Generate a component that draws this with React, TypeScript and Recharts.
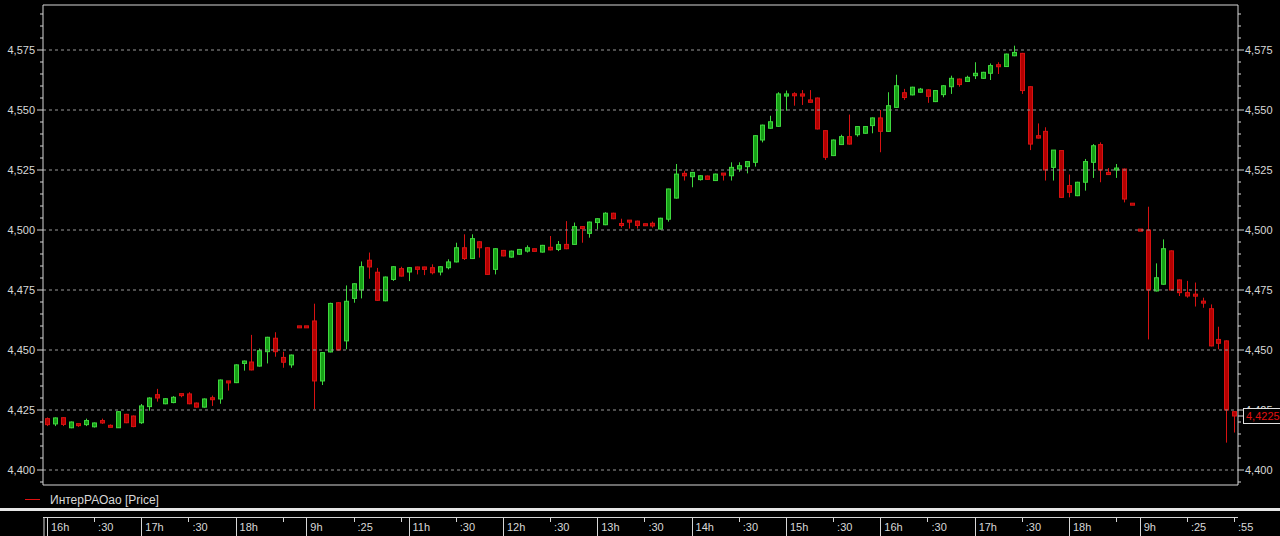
import { ComposedChart, Bar, XAxis, YAxis, ReferenceLine } from 'recharts';

// 5-minute candles
const opens = [
  4.4214, 4.4192, 4.4218, 4.4176, 4.419, 4.4189, 4.418, 4.4206, 4.4183, 4.4176,
  4.4232, 4.4225, 4.4197, 4.4264, 4.4314, 4.4276, 4.4281, 4.4315, 4.4317, 4.4279,
  4.4262, 4.4298, 4.4296, 4.4368, 4.4364, 4.4444, 4.445, 4.4433, 4.4493, 4.4549,
  4.4469, 4.4438, 4.4597, 4.4597, 4.4621, 4.4371, 4.4492, 4.4697, 4.4538, 4.4715,
  4.475, 4.4874, 4.4824, 4.4705, 4.4794, 4.4839, 4.4825, 4.4846, 4.4846, 4.4843,
  4.4825, 4.4843, 4.4867, 4.4926, 4.4881, 4.4951, 4.4926, 4.4836, 4.4915, 4.4887,
  4.4899, 4.4912, 4.4922, 4.4908, 4.4928, 4.4919, 4.494, 4.494, 4.5014, 4.4986,
  4.5031, 4.5022, 4.507, 4.5024, 4.5038, 4.5037, 4.5023, 4.5028, 4.5004, 4.5045,
  4.5133, 4.5236, 4.5222, 4.521, 4.5225, 4.5206, 4.5234, 4.5226, 4.5254, 4.5264,
  4.5282, 4.5375, 4.5424, 4.5432, 4.5558, 4.5567, 4.5567, 4.5542, 4.555, 4.5414,
  4.531, 4.5356, 4.5389, 4.5397, 4.5403, 4.5435, 4.5467, 4.5411, 4.5511, 4.5572,
  4.5563, 4.5574, 4.5584, 4.5535, 4.5564, 4.5597, 4.5629, 4.5619, 4.5643, 4.5632,
  4.5653, 4.5688, 4.5681, 4.5726, 4.5736, 4.5597, 4.5393, 4.5411, 4.5261, 4.5331,
  4.5185, 4.5143, 4.5199, 4.5282, 4.5356, 4.524, 4.525, 4.5254, 4.5108, 4.5,
  4.5, 4.4746, 4.4774, 4.4913, 4.4792, 4.4739, 4.4732, 4.47, 4.4672, 4.4544,
  4.4538, 4.4243,
];
const highs = [
  4.4219, 4.4219, 4.422, 4.4202, 4.4192, 4.4214, 4.4198, 4.4214, 4.419, 4.4245,
  4.4234, 4.4227, 4.4275, 4.4303, 4.4338, 4.4299, 4.4308, 4.4316, 4.4324, 4.4281,
  4.4298, 4.431, 4.4377, 4.4369, 4.444, 4.4456, 4.4563, 4.4506, 4.4555, 4.4574,
  4.4493, 4.4481, 4.4599, 4.4599, 4.4693, 4.4491, 4.4697, 4.4699, 4.4769, 4.4778,
  4.4869, 4.4906, 4.4842, 4.4806, 4.4849, 4.4847, 4.4845, 4.4847, 4.4847, 4.4857,
  4.4849, 4.4878, 4.4947, 4.4982, 4.4982, 4.4953, 4.4928, 4.4924, 4.4917, 4.4914,
  4.4921, 4.4936, 4.4923, 4.4938, 4.4975, 4.4954, 4.5037, 4.5031, 4.5016, 4.5035,
  4.5049, 4.5074, 4.5072, 4.5047, 4.504, 4.5039, 4.5026, 4.5035, 4.5051, 4.5172,
  4.5275, 4.5247, 4.5242, 4.5228, 4.5227, 4.5235, 4.5235, 4.5282, 4.5282, 4.5287,
  4.5395, 4.5439, 4.5476, 4.5574, 4.5581, 4.5574, 4.5583, 4.5583, 4.5552, 4.5416,
  4.5377, 4.5397, 4.5481, 4.5433, 4.5433, 4.5469, 4.55, 4.5574, 4.5647, 4.5588,
  4.5597, 4.5592, 4.5586, 4.5583, 4.5603, 4.5643, 4.5631, 4.5643, 4.5699, 4.5659,
  4.5694, 4.5699, 4.5735, 4.5768, 4.5738, 4.5599, 4.5444, 4.5428, 4.5333, 4.5333,
  4.5231, 4.5201, 4.5296, 4.5358, 4.5365, 4.5258, 4.5275, 4.5256, 4.5109, 4.5001,
  4.5097, 4.4861, 4.4961, 4.4915, 4.4794, 4.4788, 4.4781, 4.4718, 4.469, 4.4597,
  4.454, 4.4245,
];
const lows = [
  4.4183, 4.4183, 4.4183, 4.4174, 4.418, 4.4183, 4.4177, 4.4192, 4.418, 4.4175,
  4.4195, 4.4178, 4.4192, 4.4247, 4.4285, 4.4274, 4.4278, 4.4303, 4.4274, 4.426,
  4.426, 4.4267, 4.4276, 4.4331, 4.4362, 4.4414, 4.4415, 4.4431, 4.4444, 4.4472,
  4.4426, 4.4426, 4.4595, 4.4595, 4.4253, 4.4354, 4.449, 4.4498, 4.4503, 4.4697,
  4.4715, 4.4797, 4.4705, 4.4703, 4.4788, 4.4806, 4.4787, 4.4815, 4.4812, 4.4815,
  4.4811, 4.4836, 4.4865, 4.4875, 4.4879, 4.4885, 4.4813, 4.4815, 4.489, 4.4885,
  4.4897, 4.4906, 4.491, 4.4906, 4.4915, 4.4912, 4.492, 4.4938, 4.4947, 4.4968,
  4.5003, 4.502, 4.5045, 4.501, 4.5006, 4.5006, 4.5019, 4.501, 4.5002, 4.5035,
  4.5131, 4.5206, 4.5178, 4.5206, 4.5209, 4.5204, 4.5206, 4.5206, 4.5243, 4.5236,
  4.5264, 4.5365, 4.5422, 4.543, 4.5497, 4.5518, 4.5521, 4.553, 4.5419, 4.5292,
  4.5308, 4.5354, 4.5356, 4.5389, 4.5401, 4.5403, 4.5324, 4.5409, 4.5509, 4.5542,
  4.5561, 4.5572, 4.553, 4.5533, 4.5553, 4.5567, 4.5597, 4.5617, 4.5629, 4.563,
  4.5625, 4.565, 4.5679, 4.5724, 4.5567, 4.5333, 4.5381, 4.5206, 4.5206, 4.5134,
  4.5136, 4.5141, 4.5164, 4.5217, 4.5199, 4.5229, 4.5217, 4.5115, 4.5106, 4.4998,
  4.4544, 4.4744, 4.4772, 4.4748, 4.4725, 4.4718, 4.4681, 4.4676, 4.4515, 4.4503,
  4.4114, 4.4156,
];
const closes = [
  4.4189, 4.4217, 4.419, 4.42, 4.4188, 4.4206, 4.4196, 4.4196, 4.4181, 4.4243,
  4.4197, 4.4181, 4.4267, 4.43, 4.43, 4.4297, 4.4303, 4.4313, 4.4276, 4.4262,
  4.4296, 4.4296, 4.4375, 4.4366, 4.4438, 4.4454, 4.4417, 4.4497, 4.4553, 4.4493,
  4.4449, 4.4479, 4.4596, 4.4596, 4.4371, 4.4489, 4.4694, 4.45, 4.4703, 4.4776,
  4.4847, 4.4846, 4.4707, 4.4804, 4.4847, 4.4808, 4.4843, 4.4836, 4.4836, 4.4822,
  4.4847, 4.4867, 4.4926, 4.4881, 4.4964, 4.4926, 4.4815, 4.4922, 4.4892, 4.4912,
  4.4919, 4.4926, 4.4911, 4.4936, 4.4917, 4.4939, 4.4922, 4.5014, 4.5006, 4.5033,
  4.5047, 4.507, 4.5047, 4.5022, 4.5036, 4.5019, 4.5021, 4.5017, 4.5049, 4.5171,
  4.5233, 4.5226, 4.524, 4.5226, 4.5211, 4.5233, 4.5232, 4.5261, 4.5268, 4.5285,
  4.5393, 4.5437, 4.5451, 4.5567, 4.5567, 4.556, 4.5558, 4.5532, 4.5421, 4.5303,
  4.5375, 4.5389, 4.5358, 4.5431, 4.5431, 4.5467, 4.5411, 4.5518, 4.5601, 4.5552,
  4.5595, 4.5587, 4.5557, 4.5581, 4.5601, 4.5632, 4.5606, 4.5636, 4.5653, 4.5657,
  4.5685, 4.5681, 4.5733, 4.574, 4.5581, 4.5358, 4.5383, 4.525, 4.5333, 4.5136,
  4.5157, 4.5199, 4.5285, 4.5351, 4.525, 4.5231, 4.5258, 4.5129, 4.5107, 4.4999,
  4.475, 4.4801, 4.4922, 4.475, 4.4739, 4.4725, 4.4725, 4.4699, 4.4517, 4.4528,
  4.425, 4.4225,
];

// time scale boxes under the chart (candle index -> label)
const timeTickIdx = [0, 6, 12, 18, 24, 30, 33, 39, 45, 46, 52, 58, 64, 70, 76, 82, 88, 94, 100, 106, 112, 118, 124, 130, 136, 139, 145, 151];
const timeTickLabels = ['16h', ':30', '17h', ':30', '18h', '', '9h', ':25', '', '11h', ':30', '12h', ':30', '13h', ':30', '14h', ':30', '15h', ':30', '16h', ':30', '17h', ':30', '18h', '', '9h', ':25', ':55'];

const priceLines = [4.4, 4.425, 4.45, 4.475, 4.5, 4.525, 4.55, 4.575];
const lastPrice = 4.4225;
const yDomain: [number, number] = [4.39375, 4.59375];

const minorTicks: number[] = [];
for (let k = 0; k < 40; k++) minorTicks.push(Math.round((4.395 + k * 0.005) * 1000) / 1000);

const candles = opens.map((o, i) => ({ t: i, o, h: highs[i], l: lows[i], c: closes[i] }));

const FONT = '"Liberation Sans", Arial, sans-serif';
const AXIS = '#d6d6d6';
const TEXT = '#d8d8d8';
const fmt = (v: number) => v.toFixed(3).replace('.', ',');
const isMajor = (v: number) => Math.round(v * 1000) % 25 === 0;

function Candle(props: any) {
  const { x, y, width, height, payload } = props;
  const { o, h, l, c } = payload;
  const k = height / (h - l);
  const py = (v: number) => y + (h - v) * k;
  const cx = Math.round(x + width / 2) + 0.5;
  const up = c >= o;
  const edge = up ? '#3fd83f' : '#d81212';
  const fill = up ? '#16a016' : '#b40000';
  let top = py(Math.max(o, c));
  let bot = py(Math.min(o, c));
  if (bot - top < 2) {
    const m = (top + bot) / 2;
    top = m - 1;
    bot = m + 1;
  }
  return (
    <g>
      <line x1={cx} x2={cx} y1={y} y2={y + height} stroke={edge} strokeWidth={1} />
      <rect x={cx - 2} y={top} width={4} height={bot - top} fill={fill} stroke={edge} strokeWidth={1} />
    </g>
  );
}

function LeftTick({ x, y, payload }: any) {
  const v = payload.value;
  const major = isMajor(v);
  return (
    <g>
      <line x1={x - (major ? 6 : 3)} x2={x} y1={y} y2={y} stroke={AXIS} />
      {major && (
        <text x={x - 8} y={y} dy={4} textAnchor="end" fill={TEXT} fontSize={11} fontFamily={FONT}>
          {fmt(v)}
        </text>
      )}
    </g>
  );
}

function RightTick({ x, y, payload }: any) {
  const v = payload.value;
  if (v === lastPrice) {
    return (
      <g>
        <line x1={x} x2={x + 5} y1={y} y2={y} stroke={AXIS} />
        <rect x={x + 5.5} y={y - 7.5} width={40} height={15} fill="#000" stroke="#e0e0e0" />
        <text x={x + 8} y={y} dy={4} fill="#e01010" fontSize={11} fontFamily={FONT}>
          {v.toFixed(4).replace('.', ',')}
        </text>
      </g>
    );
  }
  const major = isMajor(v);
  return (
    <g>
      <line x1={x} x2={x + (major ? 6 : 3)} y1={y} y2={y} stroke={AXIS} />
      {major && (
        <text x={x + 7} y={y} dy={4} textAnchor="start" fill={TEXT} fontSize={11} fontFamily={FONT}>
          {fmt(v)}
        </text>
      )}
    </g>
  );
}

function TimeTick({ x, y, payload }: any) {
  const k = timeTickIdx.indexOf(payload.value);
  const label = timeTickLabels[k] ?? '';
  const major = label.endsWith('h');
  const top = y + 32;
  const lx = Math.round(x) + 0.5;
  return (
    <g>
      <line x1={lx} x2={lx} y1={top} y2={major ? top + 20 : top + 5} stroke={AXIS} />
      {k === 0 && <line x1={lx - 3.5} x2={lx - 3.5} y1={top} y2={top + 20} stroke={AXIS} />}
      {label && (
        <text x={x + 4} y={top + 14} fill={TEXT} fontSize={11} fontFamily={FONT}>
          {label}
        </text>
      )}
    </g>
  );
}

export default function App() {
  return (
    <div style={{ position: 'absolute', left: 0, top: 0, width: 1280, height: 536, background: '#000', overflow: 'hidden' }}>
      <ComposedChart
        width={1280}
        height={536}
        data={candles}
        margin={{ top: 5, right: 0, bottom: 0, left: 0 }}
        barCategoryGap={0}
      >
        <XAxis
          dataKey="t"
          type="category"
          height={51}
          ticks={timeTickIdx}
          interval={0}
          tickSize={0}
          tickMargin={0}
          tickLine={false}
          axisLine={{ stroke: AXIS }}
          tick={<TimeTick />}
        />
        <YAxis
          yAxisId="left"
          orientation="left"
          type="number"
          width={43}
          domain={yDomain}
          allowDataOverflow
          ticks={minorTicks}
          interval={0}
          tickSize={0}
          tickMargin={0}
          tickLine={false}
          axisLine={{ stroke: AXIS }}
          tick={<LeftTick />}
        />
        <YAxis
          yAxisId="right"
          orientation="right"
          type="number"
          width={42}
          domain={yDomain}
          allowDataOverflow
          ticks={[...minorTicks, lastPrice]}
          interval={0}
          tickSize={0}
          tickMargin={0}
          tickLine={false}
          axisLine={{ stroke: AXIS }}
          tick={<RightTick />}
        />
        {priceLines.map((v) => (
          <ReferenceLine key={v} yAxisId="left" y={v} stroke="#9a9a9a" strokeDasharray="3 3" />
        ))}
        <ReferenceLine yAxisId="left" y={yDomain[1]} stroke={AXIS} />
        <Bar
          yAxisId="left"
          dataKey={(d: any) => [d.l, d.h]}
          shape={<Candle />}
          isAnimationActive={false}
        />
      </ComposedChart>

      <div style={{ position: 'absolute', left: 25, top: 499, width: 15, height: 1, background: '#e01010' }} />
      <div
        style={{
          position: 'absolute',
          left: 50,
          top: 492,
          fontFamily: FONT,
          fontSize: 12,
          color: TEXT,
          lineHeight: '16px',
          whiteSpace: 'nowrap',
        }}
      >
        ИнтерРАОао [Price]
      </div>
      <div style={{ position: 'absolute', left: 0, top: 508, width: 1280, height: 3, background: '#e6e6e6' }} />
      <div style={{ position: 'absolute', left: 43, top: 517, width: 1195, height: 1, background: AXIS }} />
    </div>
  );
}
